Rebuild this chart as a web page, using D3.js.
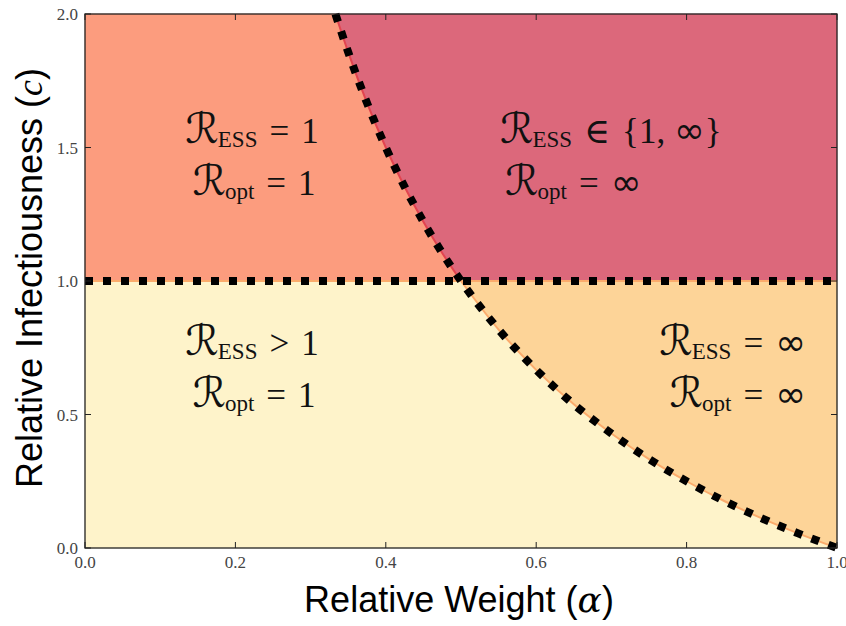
<!DOCTYPE html>
<html><head><meta charset="utf-8">
<script src="https://cdn.jsdelivr.net/npm/d3@7"></script>
<style>body{margin:0;background:#fff}</style>
</head><body><svg id="c" width="846" height="626"></svg>
<script>
const xTicks = [0.0, 0.2, 0.4, 0.6, 0.8, 1.0];
const yTicks = [0.0, 0.5, 1.0, 1.5, 2.0];
// boundary curve points (alpha, c)
const curveAlpha = [0.333, 0.35, 0.375, 0.4, 0.425, 0.45, 0.475, 0.5, 0.55, 0.6, 0.65, 0.7, 0.75, 0.8, 0.85, 0.9, 0.95, 1.0];
const curveC     = [2.0, 1.857, 1.667, 1.5, 1.353, 1.222, 1.105, 1.0, 0.818, 0.667, 0.538, 0.429, 0.333, 0.25, 0.176, 0.111, 0.053, 0.0];
const thresholdC = 1.0;
const regionNames = ["topLeft", "topRight", "bottomLeft", "bottomRight"];
const regionColors = ["#fc9c7e", "#dc687b", "#fef3ca", "#fdd498"];
const labelESSop = ["=", "∈", ">", "="];
const labelESSval = ["1", "{1, ∞}", "1", "∞"];
const labelOptOp = ["=", "=", "=", "="];
const labelOptVal = ["1", "∞", "1", "∞"];

const svg = d3.select("#c");
const L = 85, R = 837, T = 14, B = 548;
const x = d3.scaleLinear().domain([0, 1]).range([L, R]);
const y = d3.scaleLinear().domain([0, 2]).range([B, T]);

const pts = curveAlpha.map((a, i) => [a, curveC[i]]);
const upper = pts.filter(p => p[1] >= thresholdC);
const lower = pts.filter(p => p[1] <= thresholdC);

const poly = {
  topLeft: [[0, thresholdC], [0, 2], ...upper],
  topRight: [[1, 2], [1, thresholdC], ...upper.slice().reverse()],
  bottomLeft: [[0, 0], [0, thresholdC], ...lower],
  bottomRight: [[1, 0], [1, thresholdC], ...lower]
};
const line = d3.line().x(d => x(d[0])).y(d => y(d[1]));
regionNames.forEach((n, i) => {
  svg.append("path").attr("d", line(poly[n]) + "Z").attr("fill", regionColors[i]).attr("stroke", regionColors[i]).attr("stroke-width", 0.5);
});

const smooth = d3.line().x(d => x(d[0])).y(d => y(d[1])).curve(d3.curveMonotoneX);
svg.append("path").attr("d", smooth(upper)).attr("fill", "none").attr("stroke", "#e2444f").attr("stroke-width", 2);
svg.append("path").attr("d", smooth(lower)).attr("fill", "none").attr("stroke", "#fbab6c").attr("stroke-width", 2);
svg.append("path").attr("d", line([[0, thresholdC], [1, thresholdC]])).attr("fill", "none").attr("stroke", "#fbab6c").attr("stroke-width", 2);

svg.append("path").attr("d", line([[0, thresholdC], [1, thresholdC]])).attr("fill", "none")
  .attr("stroke", "#000").attr("stroke-width", 8).attr("stroke-dasharray", "8,10");
svg.append("path").attr("d", smooth(pts)).attr("fill", "none")
  .attr("stroke", "#000").attr("stroke-width", 8).attr("stroke-dasharray", "8,10");

svg.append("rect").attr("x", L).attr("y", T).attr("width", R - L).attr("height", B - T)
  .attr("fill", "none").attr("stroke", "#222").attr("stroke-width", 1.3);

const tg = svg.append("g").attr("stroke", "#222").attr("stroke-width", 1);
xTicks.forEach(v => {
  tg.append("line").attr("x1", x(v)).attr("x2", x(v)).attr("y1", B).attr("y2", B - 6);
  tg.append("line").attr("x1", x(v)).attr("x2", x(v)).attr("y1", T).attr("y2", T + 6);
});
yTicks.forEach(v => {
  tg.append("line").attr("y1", y(v)).attr("y2", y(v)).attr("x1", L).attr("x2", L + 6);
  tg.append("line").attr("y1", y(v)).attr("y2", y(v)).attr("x1", R).attr("x2", R - 6);
});
const tickFont = "'Liberation Serif','DejaVu Serif',serif";
svg.append("g").selectAll("text").data(xTicks).join("text")
  .attr("x", d => x(d)).attr("y", B + 20).attr("text-anchor", "middle")
  .attr("font-family", tickFont).attr("font-size", 17).attr("fill", "#444")
  .text(d => d3.format(".1f")(d));
svg.append("g").selectAll("text").data(yTicks).join("text")
  .attr("x", L - 7).attr("y", d => y(d) + 6).attr("text-anchor", "end")
  .attr("font-family", tickFont).attr("font-size", 17).attr("fill", "#444")
  .text(d => d3.format(".1f")(d));

const sans = "'Liberation Sans',Arial,Helvetica,sans-serif";
const xl = svg.append("text").attr("x", 459).attr("y", 612).attr("text-anchor", "middle")
  .attr("font-family", sans).attr("font-size", 36).attr("fill", "#000");
xl.append("tspan").text("Relative Weight (");
xl.append("tspan").attr("font-family", "'DejaVu Serif',serif").attr("font-style", "italic").text("α");
xl.append("tspan").text(")");
const yl = svg.append("text").attr("transform", `translate(42,278) rotate(-90)`).attr("text-anchor", "middle")
  .attr("font-family", sans).attr("font-size", 36).attr("fill", "#000");
yl.append("tspan").text("Relative Infectiousness (");
yl.append("tspan").attr("font-family", "'Liberation Serif',serif").attr("font-style", "italic").text("c");
yl.append("tspan").text(")");

const serif = "'Liberation Serif','DejaVu Serif',serif";
const labelPos = [
  [[252, 143, "middle"], [254, 195, "middle"]],
  [[500, 143, "start"], [505, 195, "start"]],
  [[252, 355, "middle"], [254, 407, "middle"]],
  [[806, 355, "end"], [806, 407, "end"]]
];
function mathLabel(p, sub, op, val) {
  const t = svg.append("text").attr("x", p[0]).attr("y", p[1]).attr("text-anchor", p[2])
    .attr("font-family", serif).attr("font-size", 35).attr("fill", "#111");
  t.append("tspan").attr("font-family", "'DejaVu Sans',serif").attr("font-size", 42).text("ℛ");
  t.append("tspan").attr("font-size", 23).attr("dy", 4).attr("dx", -1).text(sub);
  t.append("tspan").attr("dy", -4).attr("dx", 12).text(op);
  let first = true;
  val.split(/(∞)/).filter(s => s.length).forEach(s => {
    const ts = t.append("tspan").text(s);
    if (first) { ts.attr("dx", 12); first = false; }
    if (s === "∞") ts.attr("font-family", "'DejaVu Sans',serif").attr("font-size", 37);
  });
}
regionNames.forEach((n, i) => {
  mathLabel(labelPos[i][0], "ESS", labelESSop[i], labelESSval[i]);
  mathLabel(labelPos[i][1], "opt", labelOptOp[i], labelOptVal[i]);
});
</script></body></html>
